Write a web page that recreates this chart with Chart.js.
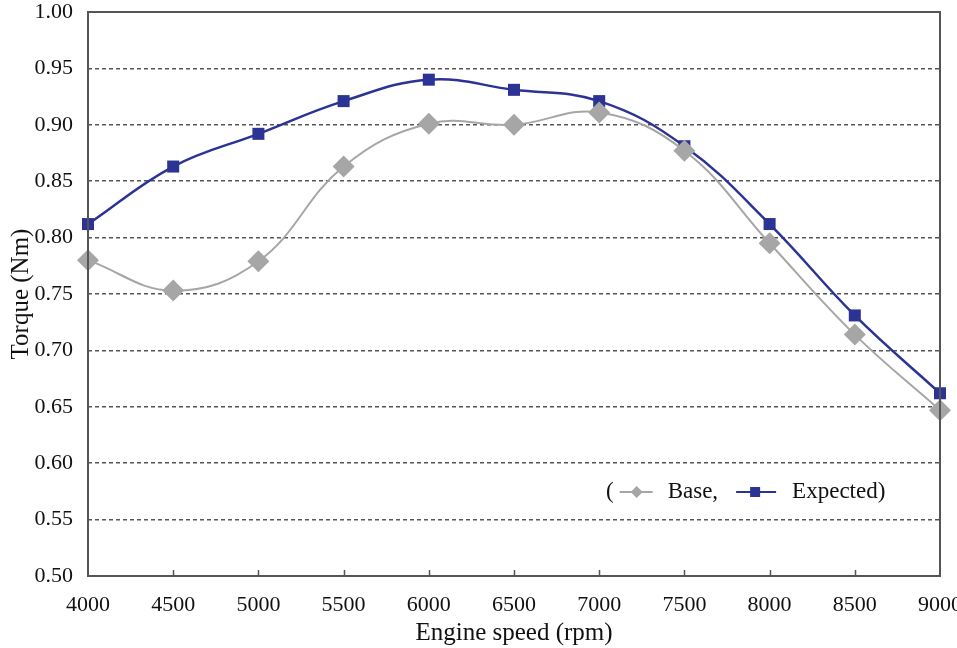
<!DOCTYPE html>
<html lang="en">
<head>
    <meta charset="UTF-8">
    <title>Torque vs Engine speed</title>
    <style>
        body {
            margin: 0;
            background: white;
        }
        canvas {
            display: block;
        }
    </style>
    <script src="https://cdn.jsdelivr.net/npm/chart.js"></script>
</head>
<body>
    <canvas id="torqueChart" width="957" height="648"></canvas>
    <script>
        var rpm = [4000, 4500, 5000, 5500, 6000, 6500, 7000, 7500, 8000, 8500, 9000];
        var baseTorque = [0.780, 0.753, 0.779, 0.863, 0.901, 0.900, 0.911, 0.877, 0.795, 0.714, 0.647];
        var expectedTorque = [0.812, 0.863, 0.892, 0.921, 0.940, 0.931, 0.921, 0.881, 0.812, 0.731, 0.662];

        var serif = '"Liberation Serif", "Times New Roman", serif';
        var baseColor = '#a6a6a6';
        var expectedColor = '#2b3394';
        var frameColor = '#555555';

        function toPoints(values) {
            return rpm.map(function (r, i) { return { x: r, y: values[i] }; });
        }

        // box around the plot plus the small inward ticks on the bottom axis
        var framePlugin = {
            id: 'frame',
            afterDraw: function (chart) {
                var ctx = chart.ctx;
                var a = chart.chartArea;
                var xs = chart.scales.x;
                ctx.save();
                ctx.strokeStyle = frameColor;
                ctx.lineWidth = 2;
                ctx.strokeRect(a.left, a.top, a.right - a.left, a.bottom - a.top);
                ctx.lineWidth = 1.5;
                ctx.beginPath();
                for (var v = 4500; v < 9000; v += 500) {
                    var px = Math.round(xs.getPixelForValue(v)) + 0.5;
                    ctx.moveTo(px, a.bottom);
                    ctx.lineTo(px, a.bottom - 6);
                }
                ctx.stroke();
                ctx.restore();
            }
        };

        // legend written inline: "( -◆- Base, -■- Expected)"
        var inlineLegend = {
            id: 'inlineLegend',
            afterDraw: function (chart) {
                var ctx = chart.ctx;
                var a = chart.chartArea;
                var y = a.bottom - 84;
                var x = a.right - 334;
                ctx.save();
                ctx.font = '23px ' + serif;
                ctx.fillStyle = '#111';
                ctx.textBaseline = 'middle';
                ctx.fillText('(', x, y);
                x += ctx.measureText('(').width + 6;

                // base sample
                ctx.strokeStyle = baseColor;
                ctx.lineWidth = 2;
                ctx.beginPath();
                ctx.moveTo(x, y);
                ctx.lineTo(x + 33, y);
                ctx.stroke();
                ctx.fillStyle = baseColor;
                ctx.beginPath();
                ctx.moveTo(x + 17, y - 6);
                ctx.lineTo(x + 23, y);
                ctx.lineTo(x + 17, y + 6);
                ctx.lineTo(x + 11, y);
                ctx.closePath();
                ctx.fill();
                x += 48;
                ctx.fillStyle = '#111';
                ctx.fillText('Base,', x, y);
                x += ctx.measureText('Base,').width + 18;

                // expected sample
                ctx.strokeStyle = expectedColor;
                ctx.lineWidth = 2;
                ctx.beginPath();
                ctx.moveTo(x, y);
                ctx.lineTo(x + 40, y);
                ctx.stroke();
                ctx.fillStyle = expectedColor;
                ctx.fillRect(x + 14, y - 5, 10, 10);
                x += 56;
                ctx.fillStyle = '#111';
                ctx.fillText('Expected)', x, y);
                ctx.restore();
            }
        };

        var config = {
            type: 'line',
            data: {
                datasets: [{
                    label: 'Base',
                    data: toPoints(baseTorque),
                    borderColor: baseColor,
                    backgroundColor: baseColor,
                    borderWidth: 2,
                    pointStyle: 'rectRot',
                    pointRadius: 11,
                    pointBorderWidth: 0,
                    tension: 0.4,
                    clip: false
                }, {
                    label: 'Expected',
                    data: toPoints(expectedTorque),
                    borderColor: expectedColor,
                    backgroundColor: expectedColor,
                    borderWidth: 2.5,
                    pointStyle: 'rect',
                    pointRadius: 8.5,
                    pointBorderWidth: 0,
                    tension: 0.4,
                    clip: false
                }]
            },
            options: {
                responsive: false,
                animation: false,
                events: [],
                layout: { padding: { top: 12, right: 17, left: 0, bottom: 0 } },
                plugins: {
                    legend: { display: false },
                    tooltip: { enabled: false }
                },
                scales: {
                    x: {
                        type: 'linear',
                        min: 4000,
                        max: 9000,
                        border: { display: false },
                        grid: { display: false },
                        ticks: {
                            stepSize: 500,
                            padding: 8,
                            color: '#111',
                            maxRotation: 0,
                            font: { family: serif, size: 22 },
                            callback: function (v) { return String(v); }
                        },
                        title: {
                            display: true,
                            text: 'Engine speed (rpm)',
                            color: '#111',
                            padding: { top: 0, bottom: 0 },
                            font: { family: serif, size: 25 }
                        },
                        afterFit: function (scale) {
                            scale.height = 72;
                            scale.paddingLeft = 0;
                            scale.paddingRight = 0;
                        }
                    },
                    y: {
                        min: 0.5,
                        max: 1.0,
                        border: { display: false, dash: [4, 3] },
                        grid: {
                            color: frameColor,
                            lineWidth: 1.5,
                            drawTicks: false
                        },
                        ticks: {
                            stepSize: 0.05,
                            padding: 15,
                            color: '#111',
                            font: { family: serif, size: 22 },
                            callback: function (v) { return v.toFixed(2); }
                        },
                        title: {
                            display: true,
                            text: 'Torque (Nm)',
                            color: '#111',
                            padding: { top: 6, bottom: 0 },
                            font: { family: serif, size: 25 }
                        },
                        afterFit: function (scale) {
                            scale.width = 88;
                            scale.paddingTop = 0;
                            scale.paddingBottom = 0;
                        }
                    }
                }
            },
            plugins: [framePlugin, inlineLegend]
        };

        var torqueChart = new Chart(document.getElementById('torqueChart'), config);
    </script>
</body>
</html>
